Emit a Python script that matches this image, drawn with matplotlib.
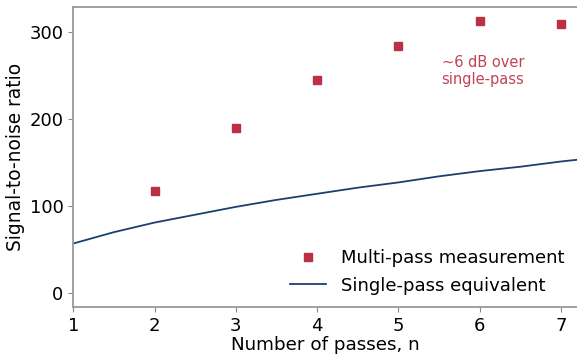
import matplotlib
matplotlib.use("Agg")
import matplotlib.pyplot as plt

# measured SNR per number of passes
passes = [2, 3, 4, 5, 6, 7]
snr_multi = [117, 190, 245, 283, 312, 309]

# single-pass equivalent curve
n_single = [1, 1.5, 2, 2.5, 3, 3.5, 4, 4.5, 5, 5.5, 6, 6.5, 7, 7.5]
snr_single = [57, 70, 81, 90, 99, 107, 114, 121, 127, 134, 140, 145, 151, 156]

x_ticks = [1, 2, 3, 4, 5, 6, 7]
y_ticks = [0, 100, 200, 300]

red = "#bb3044"
navy = "#1c3f6e"

fig, ax = plt.subplots(figsize=(5.77, 3.58), dpi=100)
fig.subplots_adjust(left=0.127, right=1.0, top=0.98, bottom=0.142)

ax.plot(passes, snr_multi, "s", color=red, markersize=6, label="Multi-pass measurement")
ax.plot(n_single, snr_single, "-", color=navy, linewidth=1.3, label="Single-pass equivalent")

ax.text(6.04, 255, "~6 dB over\nsingle-pass", color=red, alpha=0.9, fontsize=10.5,
        ha="center", va="center", multialignment="center")

ax.set_xlim(1, 7.2)
ax.set_ylim(-16, 328)
ax.set_xticks(x_ticks)
ax.set_yticks(y_ticks)
ax.tick_params(labelsize=13, color="#888888", length=3.5)
ax.set_xlabel("Number of passes, n", fontsize=13.2, labelpad=1)
ax.set_ylabel("Signal-to-noise ratio", fontsize=13.4, labelpad=3)

ax.spines["right"].set_visible(False)
for s in ["left", "bottom", "top"]:
    ax.spines[s].set_color("#999999")
    ax.spines[s].set_linewidth(1.3)

ax.legend(loc="lower right", frameon=False, fontsize=13, handlelength=2.0,
          borderaxespad=0.3)

fig.savefig("out.png", dpi=100)
